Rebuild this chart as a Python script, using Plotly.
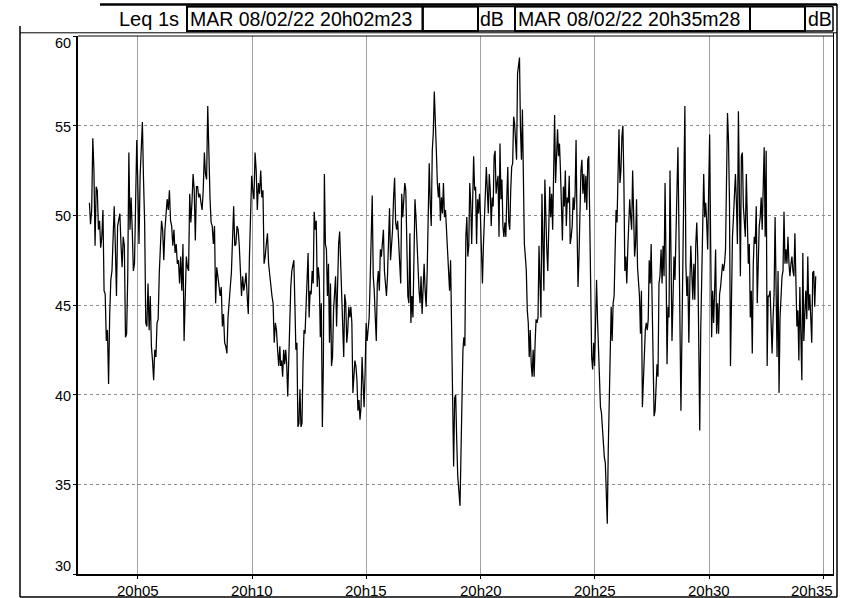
import pandas as pd
import plotly.graph_objects as go

DAY = "2022-02-08"
AXIS_START = "20:02:23"
AXIS_END = "20:35:28"
HEADER_LABEL = "Leq 1s"
HEADER_START = "MAR 08/02/22 20h02m23"
HEADER_END = "MAR 08/02/22 20h35m28"
UNIT = "dB"

x_tick_times = ["20:05", "20:10", "20:15", "20:20", "20:25", "20:30", "20:35"]
x_tick_labels = ["20h05", "20h10", "20h15", "20h20", "20h25", "20h30", "20h35"]
y_ticks = [30, 35, 40, 45, 50, 55, 60]

# Leq 1s values (dB), in four consecutive time segments
seg1_span = ("20:02:53", "20:11:13")
leq_seg1 = [50.7, 49.5, 50.3, 54.3, 52.5, 48.3, 51.6, 51.4, 49.2, 49.7,
            48.2, 48.8, 50.3, 45.8, 45.6, 43.0, 43.6, 40.6, 44.5, 46.4,
            46.9, 48.8, 50.5, 48.3, 45.5, 49.4, 49.9, 50.1, 48.4, 47.1,
            48.8, 48.3, 43.2, 43.4, 46.6, 53.5, 49.2, 51.0, 49.2, 46.9,
            47.3, 51.0, 54.2, 51.6, 48.4, 52.2, 53.8, 55.2, 52.0, 49.6,
            44.0, 43.8, 46.2, 43.6, 45.5, 42.7, 41.9, 40.8, 42.5, 42.1,
            44.0, 44.2, 46.8, 48.4, 49.7, 49.2, 47.5, 49.2, 50.3, 50.9,
            50.3, 51.4, 49.7, 49.4, 48.3, 49.2, 47.9, 48.4, 47.3, 47.5,
            46.2, 47.7, 45.8, 48.4, 43.0, 44.9, 47.7, 47.1, 46.9, 51.2,
            49.6, 50.7, 52.3, 51.4, 48.6, 51.6, 51.6, 51.0, 51.2, 50.7,
            50.3, 51.4, 53.5, 52.3, 52.0, 56.1, 52.5, 51.0, 49.6, 49.4,
            48.4, 49.4, 45.1, 47.1, 46.6, 45.8, 45.5, 46.0, 43.8, 44.5,
            42.9, 42.7, 42.3, 44.3, 45.5, 46.0, 46.8, 48.3, 50.5, 48.3,
            48.4, 49.4, 49.2, 48.3, 46.8, 45.5, 46.6, 45.8, 46.2, 46.8,
            45.5, 44.5, 47.7, 49.6, 52.2, 51.4, 50.9, 53.5, 52.5, 50.3,
            51.8, 51.2, 52.5, 51.0, 51.4, 47.3, 47.7, 48.4, 49.0, 47.3,
            46.6, 46.2, 45.5, 45.1, 42.9, 44.0, 43.6, 42.5, 41.6, 42.7]

seg2_span = ("20:11:15", "20:19:00")
leq_seg2 = [41.6, 41.9, 41.0, 42.5, 41.7, 42.5, 41.7, 39.9, 42.5, 45.3,
            46.0, 46.9, 47.3, 47.5, 45.1, 42.5, 42.9, 38.2, 38.4, 40.3,
            38.2, 38.4, 41.7, 43.6, 43.4, 45.1, 47.3, 47.9, 44.3, 45.8,
            45.6, 46.9, 46.2, 50.2, 49.2, 49.7, 46.0, 47.1, 46.4, 43.2,
            45.1, 38.2, 41.7, 52.3, 48.4, 48.1, 45.5, 47.3, 42.9, 46.2,
            41.6, 42.1, 44.7, 45.6, 46.6, 43.8, 47.3, 48.4, 49.1, 47.5,
            46.0, 44.0, 42.1, 45.6, 45.1, 42.9, 43.6, 44.9, 44.3, 44.9,
            44.0, 40.1, 41.0, 41.9, 41.6, 40.8, 39.1, 39.7, 38.6, 39.3,
            42.1, 40.6, 39.3, 41.2, 44.0, 43.0, 43.6, 44.3, 46.4, 50.1,
            51.1, 46.6, 45.8, 44.3, 43.0, 46.2, 46.9, 45.8, 48.1, 47.7,
            48.3, 49.2, 46.9, 46.2, 45.5, 46.6, 48.3, 50.4, 47.5, 48.4,
            49.2, 51.0, 52.1, 49.6, 49.2, 49.7, 48.8, 47.3, 46.2, 51.2,
            49.9, 50.9, 51.8, 51.4, 49.2, 45.5, 45.1, 49.0, 44.0, 45.5,
            44.3, 49.2, 50.9, 49.9, 48.4, 47.3, 45.8, 45.1, 46.6, 44.5,
            46.2, 47.3, 45.8, 44.9, 46.9, 49.2, 52.9, 50.7, 49.4, 53.6,
            54.6, 56.9, 54.4, 53.6, 51.8, 51.0, 51.8, 49.7, 51.0, 50.1,
            51.8, 49.9, 50.3, 49.0, 48.4, 47.3, 45.8, 47.5, 44.0, 41.7,
            36.0, 39.8, 40.0, 37.5, 35.5]

seg3_span = ("20:19:06", "20:27:51")
leq_seg3 = [33.8, 37.1, 39.0, 42.5, 43.2, 42.7, 48.8, 49.9, 47.7, 48.3,
            51.8, 50.7, 48.4, 52.3, 53.3, 51.4, 51.6, 48.4, 50.9, 50.1,
            51.2, 49.9, 47.3, 46.2, 48.3, 49.9, 50.3, 52.7, 51.4, 50.1,
            52.3, 51.4, 49.4, 51.0, 50.5, 53.3, 53.6, 51.2, 51.8, 52.2,
            48.8, 54.0, 50.9, 52.0, 49.4, 48.8, 49.6, 48.8, 51.0, 52.7,
            49.6, 49.2, 51.4, 52.7, 52.9, 55.5, 55.1, 54.0, 53.1, 57.9,
            58.5, 58.8, 54.8, 53.1, 55.9, 52.9, 48.4, 47.7, 46.9, 44.7,
            44.0, 42.1, 43.6, 41.7, 41.0, 42.5, 41.0, 42.9, 44.2, 44.0,
            44.3, 48.3, 45.5, 44.3, 51.2, 48.8, 45.8, 52.0, 49.2, 48.1,
            46.9, 49.2, 51.6, 49.9, 51.2, 49.2, 52.5, 55.6, 51.8, 52.9,
            54.8, 53.3, 54.0, 52.5, 49.9, 48.6, 51.6, 50.5, 52.5, 49.4,
            51.0, 50.7, 52.2, 48.4, 48.8, 49.4, 51.0, 50.3, 51.2, 54.2,
            49.4, 46.0, 47.7, 50.3, 52.5, 53.1, 51.2, 52.3, 50.7, 52.2,
            50.3, 53.1, 53.3, 49.9, 43.6, 42.1, 41.4, 42.9, 41.6, 44.7,
            46.4, 44.2, 42.5, 40.3, 39.3, 39.0, 38.0, 37.5, 36.5, 36.2,
            34.7, 32.8, 36.9, 39.9, 43.6, 44.9, 43.0, 45.1, 45.5, 48.4,
            50.3, 49.6, 52.5, 54.8, 51.8, 52.5, 54.4, 55.0, 52.0, 46.9,
            47.7, 46.2, 48.1, 49.9, 50.9, 49.9, 49.2, 52.5, 49.2, 47.7,
            48.4, 50.9, 47.1, 46.0, 45.5, 43.4, 45.8, 39.3, 40.8, 41.9,
            43.6, 44.0, 43.6, 44.2, 47.5, 46.2, 48.4, 45.1, 42.1, 38.8,
            39.1, 40.4, 41.7, 41.0, 46.2, 46.6]

seg4_span = ("20:27:54", "20:34:40")
leq_seg4 = [48.1, 46.2, 48.3, 46.6, 51.8, 47.3, 41.7, 44.9, 44.3, 52.5,
            45.1, 43.0, 45.3, 47.7, 46.4, 48.8, 49.9, 53.8, 49.2, 41.2,
            39.1, 43.2, 46.9, 51.4, 56.1, 47.3, 45.5, 46.6, 42.9, 46.2,
            48.3, 46.8, 45.3, 47.3, 45.3, 48.4, 49.6, 47.7, 43.2, 38.0,
            43.6, 47.3, 50.3, 52.3, 49.9, 50.7, 49.6, 48.1, 51.4, 54.5,
            48.4, 43.2, 45.8, 44.0, 45.8, 48.1, 43.4, 45.1, 43.4, 45.6,
            46.0, 46.8, 47.3, 46.9, 47.3, 48.1, 51.0, 55.7, 54.2, 50.7,
            41.6, 47.3, 48.8, 49.9, 51.0, 52.3, 50.7, 48.4, 55.8, 51.0,
            46.6, 53.3, 53.5, 50.5, 49.7, 48.8, 52.3, 50.1, 47.3, 48.4,
            44.3, 45.8, 42.3, 47.3, 48.8, 48.4, 50.5, 45.1, 48.4, 49.4,
            49.9, 51.0, 49.2, 52.2, 53.8, 48.8, 53.6, 41.6, 45.5, 45.5,
            45.8, 44.0, 42.3, 44.3, 45.6, 49.9, 44.7, 42.1, 46.9, 40.1,
            44.3, 45.6, 46.6, 46.9, 50.2, 47.3, 48.1, 47.3, 48.8, 47.3,
            46.6, 47.3, 47.7, 46.9, 46.6, 49.0, 45.5, 43.8, 44.7, 41.9,
            46.0, 43.0, 40.8, 47.9, 43.0, 44.5, 45.8, 44.2, 47.7, 44.7,
            45.6, 44.3, 42.9, 46.8, 46.9, 44.9, 46.6]

segments = [(seg1_span, leq_seg1), (seg2_span, leq_seg2),
            (seg3_span, leq_seg3), (seg4_span, leq_seg4)]

times, values = [], []
for (t0, t1), vals in segments:
    times.extend(pd.date_range(f"{DAY} {t0}", f"{DAY} {t1}", periods=len(vals)))
    values.extend(vals)

# ---- figure geometry (pixels) ----
W, H = 845, 598
ML, MR, MT, MB = 78, 11, 36, 24
PW, PH = W - ML - MR, H - MT - MB


def fx(x):
    return (x - ML) / PW


def fy(y):
    return (H - MB - y) / PH


FONT = "Liberation Sans, Arial, sans-serif"

fig = go.Figure()
fig.add_trace(go.Scatter(x=times, y=values, mode="lines",
                         line=dict(color="black", width=1.25),
                         hoverinfo="skip", showlegend=False))

shapes = []


def seg(x0, y0, x1, y1, w=1, c="black"):
    shapes.append(dict(type="line", xref="paper", yref="paper",
                       x0=fx(x0), y0=fy(y0), x1=fx(x1), y1=fy(y1),
                       line=dict(color=c, width=w)))


def box(x0, y0, x1, y1, w=2):
    shapes.append(dict(type="rect", xref="paper", yref="paper",
                       x0=fx(x0), y0=fy(y0), x1=fx(x1), y1=fy(y1),
                       line=dict(color="black", width=w)))


# outer frame
seg(20, 26, 20, 597, 1.5)
seg(20, 597, 837, 597, 1.5)
seg(837, 4, 837, 597, 1.5)
seg(100, 4.5, 837, 4.5, 2.5)
seg(20, 32.8, 837, 32.8, 1)
# plot border top / right (double)
seg(ML, 36, 834, 36, 1)
seg(833.5, 33, 833.5, 574, 1)
# header cells
seg(187, 6.5, 833, 6.5, 1.5)
seg(187, 31, 833, 31, 1.5)
box(187, 6.5, 422.7, 31)
box(422.7, 6.5, 478, 31)
box(515, 6.5, 750, 31)
box(750, 6.5, 805, 31)
seg(833, 6.5, 833, 31, 1.5)

annotations = []


def txt(x, y, s, xa="left", size=19.5):
    annotations.append(dict(xref="paper", yref="paper", x=fx(x), y=fy(y),
                            text=s, showarrow=False, xanchor=xa,
                            yanchor="middle", borderpad=0,
                            font=dict(family=FONT, size=size, color="black")))


txt(180, 19, HEADER_LABEL, "right", 20)
txt(188.5, 19, HEADER_START)
txt(478.5, 19, UNIT)
txt(516.5, 19, HEADER_END)
txt(806.5, 19, UNIT)

# x tick labels
for i, (t, lab) in enumerate(zip(x_tick_times, x_tick_labels)):
    last = i == len(x_tick_times) - 1
    annotations.append(dict(
        xref="x", yref="paper",
        x=f"{DAY} {AXIS_END}" if last else f"{DAY} {t}:00",
        y=0, yshift=-7, text=lab, showarrow=False,
        xanchor="right" if last else "center", yanchor="top", borderpad=0,
        font=dict(family=FONT, size=15, color="black")))

# y tick labels
for v in y_ticks:
    ya = "top" if v == max(y_ticks) else ("bottom" if v == min(y_ticks) else "middle")
    annotations.append(dict(
        xref="paper", yref="y", x=0, xshift=-6, y=v,
        yshift=(2 if ya == "top" else -1),
        text=str(v), showarrow=False, xanchor="right", yanchor=ya,
        borderpad=0, font=dict(family=FONT, size=14.5, color="black")))

fig.update_layout(
    width=W, height=H, autosize=False,
    margin=dict(l=ML, r=MR, t=MT, b=MB, pad=0),
    paper_bgcolor="white", plot_bgcolor="white",
    font=dict(family=FONT, size=14, color="black"),
    showlegend=False,
    shapes=shapes, annotations=annotations,
    xaxis=dict(type="date",
               range=[f"{DAY} {AXIS_START}", f"{DAY} {AXIS_END}"],
               tickvals=[f"{DAY} {t}:00" for t in x_tick_times],
               showticklabels=False, ticks="outside", ticklen=3,
               tickcolor="black", showgrid=True, gridcolor="#a0a0a0",
               gridwidth=1, showline=True, linecolor="black", linewidth=2,
               zeroline=False, fixedrange=True),
    yaxis=dict(range=[30, 60], tickvals=y_ticks, showticklabels=False,
               ticks="outside", ticklen=3, tickcolor="black",
               showgrid=True, gridcolor="#8c8c8c", griddash="dot",
               gridwidth=1, showline=True, linecolor="black", linewidth=2,
               zeroline=False, fixedrange=True),
)

fig.write_html("out.html", config={"displayModeBar": False},
               post_script="document.body.style.margin='0px';"
                           "document.body.style.overflow='hidden';")
